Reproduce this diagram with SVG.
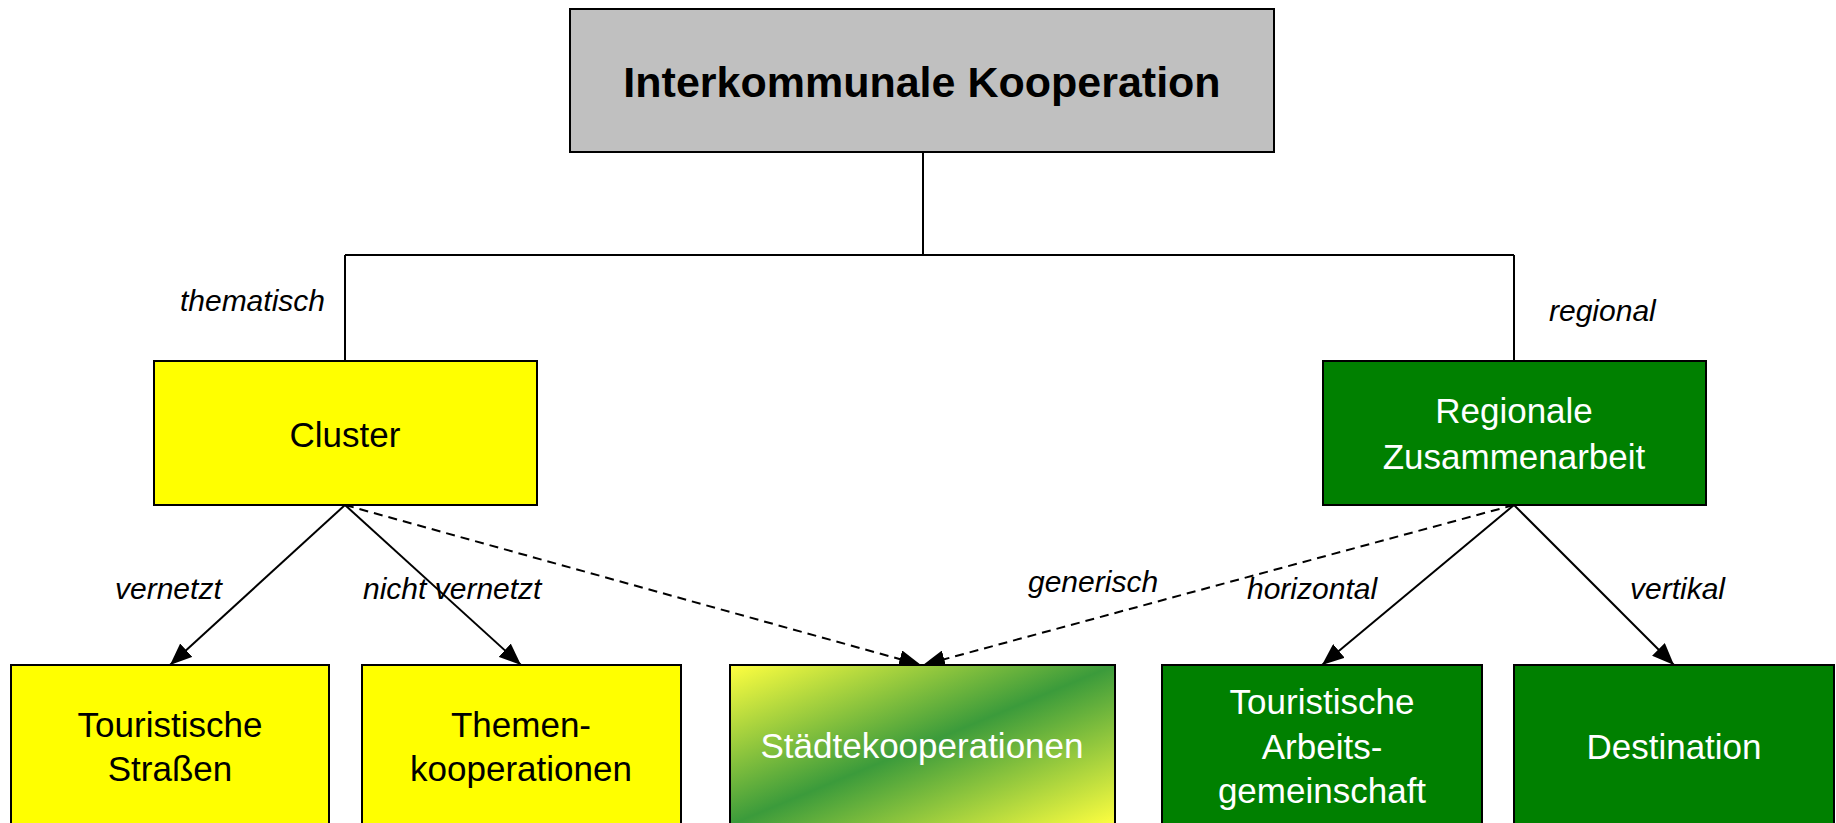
<svg xmlns="http://www.w3.org/2000/svg" width="1836" height="823" viewBox="0 0 1836 823">
<style>
.box{stroke:#000;stroke-width:2}
.t{font-family:"Liberation Sans",Arial,sans-serif;font-size:35px;text-anchor:middle}
.tb{font-family:"Liberation Sans",Arial,sans-serif;font-size:43px;font-weight:bold;text-anchor:middle;fill:#000}
.lbl{font-family:"Liberation Sans",Arial,sans-serif;font-size:30px;font-style:italic;fill:#000}
.w{fill:#fff}
.k{fill:#000}
.line{stroke:#000;stroke-width:2;fill:none}
.arrow{marker-end:url(#ah)}
.dash{stroke-dasharray:9 6}
</style>
<defs>
<marker id="ah" viewBox="0 0 22 18" refX="22" refY="9" markerWidth="22" markerHeight="18" markerUnits="userSpaceOnUse" orient="auto">
<path d="M0,0 L22,9 L0,18 z" fill="#000"/>
</marker>
<linearGradient id="grad" x1="0" y1="0" x2="1" y2="1">
<stop offset="0" stop-color="#ffff40"/>
<stop offset="0.5" stop-color="#3b9b3b"/>
<stop offset="1" stop-color="#ffff40"/>
</linearGradient>
</defs>
<rect width="1836" height="823" fill="#fff"/>
<g id="connectors">
<path class="line" d="M923,152 V255 M345,255 H1514 M345,255 V361 M1514,255 V361"/>
<line class="line arrow" x1="345" y1="505" x2="170" y2="665"/>
<line class="line arrow" x1="345" y1="505" x2="521" y2="665"/>
<line class="line arrow dash" x1="345" y1="505" x2="921" y2="665"/>
<line class="line arrow dash" x1="1514" y1="505" x2="923" y2="665"/>
<line class="line arrow" x1="1514" y1="505" x2="1322" y2="665"/>
<line class="line arrow" x1="1514" y1="505" x2="1674" y2="665"/>
</g>
<g id="labels">
<text class="lbl" x="325" y="311" text-anchor="end">thematisch</text>
<text class="lbl" x="1549" y="321">regional</text>
<text class="lbl" x="115" y="599">vernetzt</text>
<text class="lbl" x="363" y="599">nicht vernetzt</text>
<text class="lbl" x="1028" y="592">generisch</text>
<text class="lbl" x="1247" y="599">horizontal</text>
<text class="lbl" x="1630" y="599">vertikal</text>
</g>
<g id="node-top">
<rect class="box" x="570" y="9" width="704" height="143" fill="#c0c0c0"/>
<text class="tb" x="922" y="97">Interkommunale Kooperation</text>
</g>
<g id="node-cluster">
<rect class="box" x="154" y="361" width="383" height="144" fill="#ffff00"/>
<text class="t k" x="345" y="447">Cluster</text>
</g>
<g id="node-regional">
<rect class="box" x="1323" y="361" width="383" height="144" fill="#008000"/>
<text class="t w" x="1514" y="423">Regionale</text>
<text class="t w" x="1514" y="469">Zusammenarbeit</text>
</g>
<g id="node-strassen">
<rect class="box" x="11" y="665" width="318" height="175" fill="#ffff00"/>
<text class="t k" x="170" y="737">Touristische</text>
<text class="t k" x="170" y="781">Straßen</text>
</g>
<g id="node-themen">
<rect class="box" x="362" y="665" width="319" height="175" fill="#ffff00"/>
<text class="t k" x="521" y="737">Themen-</text>
<text class="t k" x="521" y="781">kooperationen</text>
</g>
<g id="node-staedte">
<rect class="box" x="730" y="665" width="385" height="160" fill="url(#grad)"/>
<text class="t w" x="922" y="758">Städtekooperationen</text>
</g>
<g id="node-arge">
<rect class="box" x="1162" y="665" width="320" height="175" fill="#008000"/>
<text class="t w" x="1322" y="714">Touristische</text>
<text class="t w" x="1322" y="759">Arbeits-</text>
<text class="t w" x="1322" y="803">gemeinschaft</text>
</g>
<g id="node-destination">
<rect class="box" x="1514" y="665" width="320" height="175" fill="#008000"/>
<text class="t w" x="1674" y="759">Destination</text>
</g>
</svg>
